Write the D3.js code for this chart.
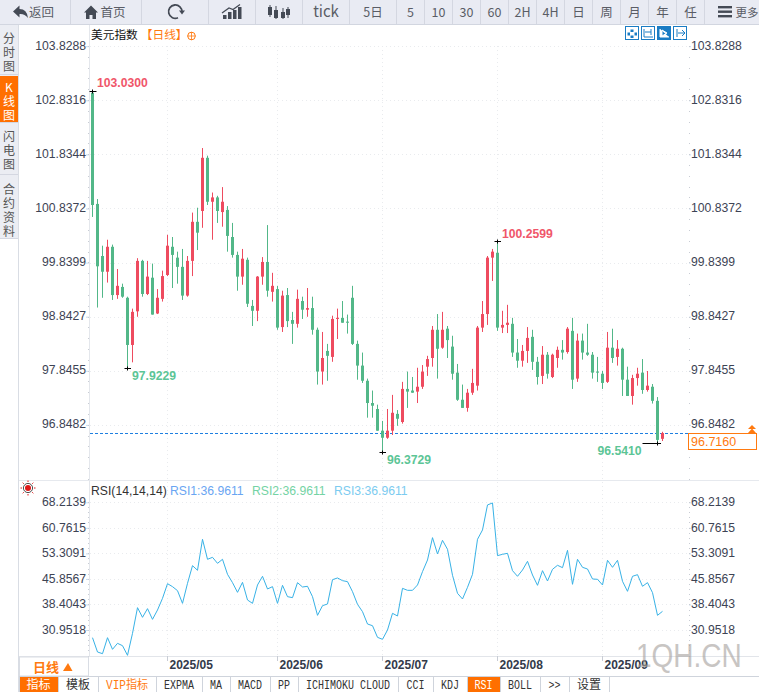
<!DOCTYPE html>
<html><head><meta charset="utf-8">
<script src="https://cdn.jsdelivr.net/npm/d3@7/dist/d3.min.js"></script>
<style>html,body{margin:0;padding:0;background:#fff;overflow:hidden}svg{display:block}text{font-family:"Liberation Sans",Arial,sans-serif}</style>
</head><body><svg id="c" width="759" height="692"></svg>
<script>
const opens=[102.99,100.94,99.98,99.69,100.15,99.26,99.41,99.21,98.34,98.96,99.89,99.28,99.58,98.92,99.19,99.63,100.15,99.95,99.78,99.25,99.89,100.61,100.81,101.79,100.98,101.06,100.79,100.83,100.33,100.0,99.60,99.91,99.06,98.97,99.60,99.87,99.32,99.37,98.67,99.26,98.80,98.73,99.15,98.99,99.02,98.62,97.85,98.23,98.12,98.82,98.84,98.77,99.21,98.36,97.96,97.68,97.27,97.16,96.76,96.63,96.76,97.07,96.92,97.53,97.50,97.48,97.57,97.94,98.10,98.62,98.29,98.64,98.31,97.83,97.33,97.18,97.46,97.59,98.66,98.91,99.95,100.04,98.66,98.71,98.73,98.20,98.05,98.23,98.49,98.03,97.77,98.16,97.75,98.10,98.25,98.21,98.60,97.72,98.42,98.20,98.16,97.85,97.81,97.66,98.29,98.12,98.27,97.70,97.40,97.73,97.83,97.51,97.57,97.31,96.61];
const highs=[103.03,101.03,100.17,100.28,100.19,99.74,99.47,99.23,99.01,99.94,99.91,99.89,99.84,99.37,99.71,100.37,100.33,100.06,100.11,99.98,100.78,100.87,101.97,101.83,101.15,101.09,101.25,100.90,100.59,100.06,100.11,99.95,99.17,99.61,99.96,100.55,99.67,99.43,99.34,99.39,98.95,99.36,99.23,99.39,99.23,98.66,98.58,98.36,98.88,99.01,99.15,98.90,99.43,98.42,98.20,97.72,97.50,97.24,96.94,97.16,97.42,97.14,97.66,97.85,97.75,97.92,97.97,98.14,98.69,98.91,98.95,98.69,98.51,97.99,97.61,97.53,97.90,98.69,99.15,99.98,100.11,100.26,98.97,99.08,98.84,98.45,98.34,98.67,98.62,98.12,98.32,98.21,98.18,98.31,98.43,98.67,98.84,98.55,98.55,98.73,98.21,98.12,97.86,98.58,98.64,98.43,98.29,97.94,97.79,97.92,98.08,97.86,97.62,97.38,96.74];
const lows=[100.70,99.03,99.21,99.49,99.17,99.19,99.21,97.92,98.02,98.86,99.23,99.26,98.90,98.91,99.14,99.61,99.39,99.47,99.17,99.23,99.61,100.09,100.50,100.92,100.28,100.59,100.52,100.06,99.95,99.34,99.45,99.04,98.69,98.78,99.45,99.23,99.14,98.62,98.58,98.67,98.36,98.66,98.82,98.86,98.53,97.61,97.61,97.68,98.03,98.45,98.75,98.55,98.34,97.70,97.64,97.0,97.0,96.76,96.37,96.61,96.68,96.85,96.89,97.18,97.46,97.27,97.53,97.77,97.94,97.72,98.27,98.10,97.70,97.31,97.18,97.11,97.42,97.50,98.58,98.71,99.52,98.60,98.56,98.56,98.12,97.92,97.94,98.01,97.88,97.61,97.62,97.72,97.73,97.92,98.07,98.18,97.53,97.66,98.07,98.14,97.72,97.66,97.53,97.64,98.01,97.96,97.40,97.40,97.24,97.59,97.44,97.48,97.26,96.54,96.57];
const closes=[100.92,99.79,99.69,100.15,99.26,99.43,99.23,98.34,98.95,99.89,99.28,99.60,98.90,99.21,99.61,100.17,100.0,99.78,99.25,99.89,100.61,100.41,101.79,100.98,101.06,100.81,100.98,100.35,100.0,99.60,99.93,99.10,98.97,99.60,99.87,99.34,99.43,98.66,99.25,98.78,98.73,99.19,98.99,99.02,98.62,97.85,98.10,98.14,98.82,98.84,98.75,98.75,98.36,97.96,97.68,97.27,97.22,96.76,96.63,96.76,97.09,96.98,97.53,97.48,97.46,97.57,97.85,98.08,98.62,98.27,98.62,98.43,97.81,97.33,97.18,97.46,97.64,98.66,98.91,99.95,100.06,98.66,98.71,98.75,98.20,98.05,98.23,98.47,98.03,97.75,98.16,97.81,98.16,98.25,98.20,98.64,97.70,98.42,98.20,98.16,97.83,97.83,97.64,98.29,98.10,98.27,97.70,97.40,97.73,97.81,97.51,97.59,97.31,96.59,96.716];
const rsi=[28.71,24.53,24.04,28.71,25.31,27.06,26.38,23.56,29.98,37.47,34.65,37.18,34.06,36.79,40.19,44.47,43.60,42.43,38.73,44.57,49.73,48.37,57.42,51.58,52.16,50.41,51.58,47.20,44.77,41.94,44.86,39.71,38.73,44.09,46.62,42.92,43.60,38.73,43.99,40.68,40.39,44.77,43.50,43.70,40.68,35.23,38.05,38.54,45.64,46.13,45.35,45.06,42.14,38.44,36.30,32.70,32.21,28.81,28.23,30.95,35.82,35.04,43.11,42.53,42.53,44.09,47.98,51.38,57.90,53.13,57.12,54.50,46.91,41.65,40.00,43.40,47.20,57.42,60.14,67.44,68.02,52.65,53.04,53.33,48.27,46.62,48.46,50.99,47.0,43.99,48.27,45.25,48.66,49.83,49.14,54.20,44.28,51.58,49.24,48.75,45.84,45.74,44.09,51.29,49.24,51.29,45.16,42.24,46.62,47.10,43.70,44.77,41.85,35.23,36.40];
const priceTicks=[103.8288,102.8316,101.8344,100.8372,99.8399,98.8427,97.8455,96.8482];
const rsiTicks=[68.2139,60.7615,53.3091,45.8567,38.4043,30.9518];
const monthIdx=[15,37,58,81,102];
const monthLabels=["2025/05","2025/06","2025/07","2025/08","2025/09"];
const lastPrice=96.7160;
const extremes=[{i:0,k:"h",label:"103.0300"},{i:7,k:"l",label:"97.9229"},{i:58,k:"l",label:"96.3729"},{i:81,k:"h",label:"100.2599"},{i:113,k:"l",label:"96.5410"}];
const toolbarItems=[["返回",0,70],["首页",71,141],["",142,208],["",209,255],["",256,302],["tick",303,349],["5日",350,396],["5",397,424],["10",425,452],["30",453,480],["60",481,508],["2H",509,536],["4H",537,564],["日",565,592],["周",593,620],["月",621,648],["年",649,676],["任",677,704],["",705,759]];
const sideTabs=[{y0:25,y1:74,c:"分时图",top:32},{y0:76,y1:122,c:"K线图",top:81,on:1},{y0:123,y1:174,c:"闪电图",top:130},{y0:175,y1:238,c:"合约资料",top:183}];
const bottomTabs=[["指标",19,58,1],["模板",58,98,0],["VIP指标",98,156,2],["EXPMA",156,202,0],["MA",202,230,0],["MACD",230,270,0],["PP",270,298,0],["ICHIMOKU CLOUD",298,398,0],["CCI",398,433,0],["KDJ",433,467,0],["RSI",467,500,1],["BOLL",500,540,0],[">>",540,569,0],["设置",569,609,0],["",609,759,0]];

const RED="#ee4b5f",GREEN="#52b788",GRID="#e9ebee",ORANGE="#ff7a10",AXT="#3d4354",CJK='"Noto Sans CJK SC","Liberation Sans",sans-serif';
const svg=d3.select("#c");
const x=d3.scaleLinear().domain([0,114]).range([92.5,662.5]);
const y=d3.scaleLinear().domain([96.8482,103.8288]).range([425.9,47.2]);
const yr=d3.scaleLinear().domain([30.9518,68.2139]).range([630,502.3]);

// toolbar
const tb=svg.append("g");
tb.append("rect").attr("width",759).attr("height",24.5).attr("fill","#e9ebf3");
tb.append("rect").attr("y",24).attr("width",759).attr("height",1).attr("fill","#d2d6e0");
toolbarItems.forEach(d=>{
  tb.append("rect").attr("x",d[2]).attr("y",0).attr("width",1).attr("height",24).attr("fill","#d4d7e1");
  if(d[0]) tb.append("text").attr("x",d[0]==="返回"?41.5:d[0]==="首页"?113:(d[1]+d[2])/2).attr("y",d[0]==="tick"?17:16.5).attr("text-anchor","middle")
    .attr("fill","#5a5d66").style("font-family",CJK).style("font-size",d[0]==="tick"?"15px":"12.5px").text(d[0]);
});
const ic=tb.append("g").attr("fill","#444a55");
ic.append("path").attr("d","M13 11.5 L19.5 5.5 V9 Q27 9 28 18 Q24.5 13.5 19.5 14 V17.5 Z");
ic.append("path").attr("d","M84 12.5 L91 5.5 L98 12.5 H96 V19 H92.5 V15 H89.5 V19 H86 V12.5 Z");
tb.append("path").attr("d","M182 12 A6.7 6.7 0 1 0 178 17.8").attr("fill","none").attr("stroke","#444a55").attr("stroke-width",1.8);
ic.append("path").attr("d","M179 10.5 H185 L182 14.5 Z");
[[223,15,4],[228,12,7],[233,10,9],[238,7,12]].forEach(r=>ic.append("rect").attr("x",r[0]).attr("y",r[1]).attr("width",3.5).attr("height",r[2]));
tb.append("path").attr("d","M222 13 L229 8 L233 9.5 L240 4.5").attr("fill","none").attr("stroke","#444a55").attr("stroke-width",1.3);
[[270,7,8,5,17],[276,10,8,6,19],[283,12,6,8,19],[288,9,6,7,18]].forEach(r=>{
  ic.append("rect").attr("x",r[0]-.5).attr("y",r[3]).attr("width",1).attr("height",r[4]-r[3]);
  ic.append("rect").attr("x",r[0]-2).attr("y",r[1]).attr("width",4).attr("height",r[2]);
});
[7,11.5,16].forEach(v=>ic.append("rect").attr("x",718).attr("y",v-1).attr("width",14).attr("height",2.4));
tb.append("text").attr("x",735.5).attr("y",16.5).attr("fill","#5a5d66").style("font-family",CJK).style("font-size","11.5px").text("更多");

// side tabs
svg.append("rect").attr("x",0).attr("y",25).attr("width",18).attr("height",214).attr("fill","#ebedf3");
svg.append("rect").attr("x",18).attr("y",25).attr("width",1).attr("height",667).attr("fill","#d9dde4");
sideTabs.forEach(t=>{
  if(t.on) svg.append("rect").attr("x",0).attr("y",t.y0).attr("width",18).attr("height",t.y1-t.y0).attr("fill","#ff6f00");
  svg.append("rect").attr("x",0).attr("y",t.y1).attr("width",18).attr("height",1).attr("fill","#d4d7e1");
  svg.append("text").attr("x",9).attr("y",t.top).attr("fill",t.on?"#fff":"#555")
    .style("writing-mode","vertical-rl").style("text-orientation","upright").style("letter-spacing","2px")
    .style("font-family",CJK).style("font-size","12px").text(t.c);
});

// frame
svg.append("rect").attr("x",89).attr("y",25).attr("width",1).attr("height",631).attr("fill","#e4e7ec");
svg.append("rect").attr("x",19).attr("y",480).attr("width",740).attr("height",1).attr("fill","#e6e9ee");
svg.append("rect").attr("x",19).attr("y",656).attr("width",740).attr("height",1).attr("fill","#e2e5ea");

// grid
const grid=svg.append("g").attr("stroke",GRID).attr("stroke-dasharray","1,3").attr("fill","none");
priceTicks.forEach(t=>grid.append("line").attr("x1",90).attr("x2",689).attr("y1",Math.round(y(t)-1)+.5).attr("y2",Math.round(y(t)-1)+.5));
rsiTicks.forEach(t=>grid.append("line").attr("x1",90).attr("x2",689).attr("y1",Math.round(yr(t))+.5).attr("y2",Math.round(yr(t))+.5));
monthIdx.forEach(i=>{grid.append("line").attr("x1",x(i)).attr("x2",x(i)).attr("y1",46).attr("y2",656);});

// price axes
function axis(a,dx,dy,labelShift){
  const g=svg.append("g").attr("transform",`translate(${dx},${dy})`).call(a);
  g.select(".domain").remove();
  g.selectAll("line").attr("stroke","#c9dcef");
  g.selectAll("text").attr("fill",AXT).attr("transform",`translate(0,${labelShift})`).style("font-size","12.2px").style("font-family",'"Liberation Sans",Arial,sans-serif');
  return g;
}
const fmt=d=>d.toFixed(4);
axis(d3.axisLeft(y).tickValues(priceTicks).tickFormat(fmt).tickSize(3).tickPadding(0),89,-1,-1);
axis(d3.axisRight(y).tickValues(priceTicks).tickFormat(fmt).tickSize(2).tickPadding(0),689,-1,-1);
axis(d3.axisLeft(yr).tickValues(rsiTicks).tickFormat(fmt).tickSize(3).tickPadding(0),89,0,-.5);
axis(d3.axisRight(yr).tickValues(rsiTicks).tickFormat(fmt).tickSize(2).tickPadding(0),689,0,-.5);
// minor axis dots
const minor=svg.append("g").attr("fill","#c8ccd4");
d3.range(46,480,10.82).concat(d3.range(502,656,5.12)).forEach(v=>{
  minor.append("rect").attr("x",88).attr("y",Math.round(v)).attr("width",1).attr("height",1);
  minor.append("rect").attr("x",689).attr("y",Math.round(v)).attr("width",1).attr("height",1);
});

// last price line
svg.append("line").attr("x1",90).attr("x2",689).attr("y1",Math.round(y(lastPrice))+.5).attr("y2",Math.round(y(lastPrice))+.5)
  .attr("stroke","#1e7fe0").attr("stroke-dasharray","3,2");

// candles
const candles=svg.append("g");
const color=i=>closes[i]>=opens[i]?RED:GREEN;
candles.selectAll("rect.w").data(d3.range(opens.length)).join("rect").attr("class","w")
  .attr("x",i=>x(i)-.5).attr("width",1).attr("y",i=>y(highs[i])).attr("height",i=>Math.max(1,y(lows[i])-y(highs[i]))).attr("fill",color);
candles.selectAll("rect.b").data(d3.range(opens.length)).join("rect").attr("class","b")
  .attr("x",i=>x(i)-1.5).attr("width",3).attr("y",i=>y(Math.max(opens[i],closes[i]))).attr("height",i=>Math.max(1,Math.abs(y(opens[i])-y(closes[i])))).attr("fill",color);

// extremes
extremes.forEach(e=>{
  const v=e.k==="h"?highs[e.i]:lows[e.i], px=x(e.i), py=Math.round(y(v))+.5;
  const left=e.i===113, first=e.i===0;
  svg.append("line").attr("x1",left?px-15:px-3).attr("x2",first?px+4:px+3.5).attr("y1",py).attr("y2",py).attr("stroke","#000");
  svg.append("line").attr("x1",px).attr("x2",px).attr("y1",py-2).attr("y2",py+2).attr("stroke","#000");
  const tx=left?px-60:px+4.5, ty=first?py-5:e.k==="h"?py-4:py+11;
  svg.append("text").attr("x",tx).attr("y",ty).attr("fill",e.k==="h"?"#f0566a":"#5cc596").style("font-size","12.2px").style("font-weight","bold").text(e.label);
});

// last price tag
svg.append("rect").attr("x",688.5).attr("y",433.5).attr("width",68).attr("height",16).attr("fill","#fff").attr("stroke",ORANGE);
svg.append("text").attr("x",691).attr("y",446).attr("fill",ORANGE).style("font-size","12.5px").text(lastPrice.toFixed(4));
svg.append("path").attr("d","M748 429 L752 425 L756 429 Z M748 433 L752 428.5 L756 433 Z").attr("fill",ORANGE);

// RSI line
svg.append("path").attr("fill","none").attr("stroke","#38b2e6").attr("stroke-width",1)
  .attr("d",d3.line().x((d,i)=>x(i)).y(d=>yr(d))(rsi));

// headers
const h=svg.append("text").attr("x",91).attr("y",38.5).style("font-family",CJK).style("font-size","11.7px");
h.append("tspan").attr("fill","#111").text("美元指数");
h.append("tspan").attr("fill",ORANGE).attr("dx",3).text("【日线】");
svg.append("circle").attr("cx",191.5).attr("cy",36).attr("r",3.8).attr("fill","none").attr("stroke",ORANGE);
svg.append("path").attr("d","M187.5 36 H195.5 M191.5 32 V40").attr("stroke",ORANGE).attr("stroke-width",.8);
[625,641,657,673].forEach((bx,i)=>{
  const on=i===2;
  svg.append("rect").attr("x",bx+.5).attr("y",26.5).attr("width",13).attr("height",13).attr("fill",on?"#1a7cc4":"#fff").attr("stroke","#1a7cc4");
  const col=on?"#fff":"#1a7cc4";
  const p={1:"M"+(bx+3)+" 29 V37 H"+(bx+12)+" M"+(bx+10)+" 29 V35 M"+(bx+4)+" 32 H"+(bx+10),2:"M"+(bx+3)+" 29 V37 H"+(bx+12)+" M"+(bx+5)+" 30 L"+(bx+10)+" 33 L"+(bx+5)+" 36 Z",3:"M"+(bx+4)+" 29 V37 M"+(bx+5)+" 33 H"+(bx+12)+" M"+(bx+9)+" 30 L"+(bx+12)+" 33 L"+(bx+9)+" 36"}[i];
  if(i===0){
    [[bx+5,29,3,2.5],[bx+5,35,3,2.5],[bx+2,32,2.5,3],[bx+9,32,2.5,3]].forEach(r=>svg.append("rect").attr("x",r[0]+.5).attr("y",r[1]+.5).attr("width",r[2]).attr("height",r[3]).attr("fill",col));
  } else svg.append("path").attr("d",p).attr("stroke",col).attr("fill",i===2?col:"none");
});

// RSI legend
svg.append("text").attr("x",91).attr("y",495).attr("fill","#333").style("font-size","12.2px").text("RSI(14,14,14)");
[["RSI1:36.9611",170,"#6aa5f2"],["RSI2:36.9611",252,"#74d3a4"],["RSI3:36.9611",334,"#7ccbf0"]].forEach(d=>
  svg.append("text").attr("x",d[1]).attr("y",495).attr("fill",d[2]).style("font-size","12.2px").text(d[0]));
const sun=svg.append("g").attr("transform","translate(28,488)");
sun.append("circle").attr("r",3).attr("fill","#e01818");
sun.append("circle").attr("r",4.6).attr("fill","none").attr("stroke","#222").attr("stroke-width",.8);
d3.range(8).forEach(k=>{const a=k*Math.PI/4;sun.append("line").attr("x1",6*Math.cos(a)).attr("y1",6*Math.sin(a)).attr("x2",7.5*Math.cos(a)).attr("y2",7.5*Math.sin(a)).attr("stroke","#e01818");});

// x axis
monthIdx.forEach((i,k)=>{
  svg.append("line").attr("x1",x(i)).attr("x2",x(i)).attr("y1",656).attr("y2",661).attr("stroke","#c8ccd4");
  svg.append("text").attr("x",x(i)+2).attr("y",669).attr("fill","#333a4a").style("font-size","12px").style("font-weight","bold").text(monthLabels[k]);
});

// watermark
svg.append("text").attr("transform","translate(636,667) scale(1,1.18)").attr("fill","#a5a09c").attr("opacity",.6).style("font-size","28px").style("font-family",'"Liberation Sans",sans-serif').text("1QH.CN");

// period box
svg.append("rect").attr("x",19.5).attr("y",657).attr("width",69).attr("height",19).attr("fill","#fff").attr("stroke","#d9dde4");
svg.append("text").attr("x",33).attr("y",672).attr("fill",ORANGE).style("font-family",CJK).style("font-size","13px").style("font-weight","bold").text("日线");
svg.append("path").attr("d","M63 671 L68 663 L72.5 671 Z").attr("fill",ORANGE);

// bottom tabs
bottomTabs.forEach(d=>{
  const on=d[3]===1;
  svg.append("rect").attr("x",d[1]+.5).attr("y",676.5).attr("width",d[2]-d[1]).attr("height",16).attr("fill",on?"#ff6f00":"#fff").attr("stroke","#cfd4dc");
  if(d[0]){
    const len=Array.from(d[0]).reduce((s,c)=>s+(c.charCodeAt(0)>255?12:6),0);
    svg.append("text").attr("x",(d[1]+d[2])/2).attr("y",689).attr("text-anchor","middle").attr("fill",on?"#fff":d[3]===2?ORANGE:"#333")
      .attr("textLength",len).attr("lengthAdjust","spacingAndGlyphs")
      .style("font-family",'"Liberation Mono","Noto Sans CJK SC",monospace').style("font-size","12px").text(d[0]);
  }
});
</script></body></html>
